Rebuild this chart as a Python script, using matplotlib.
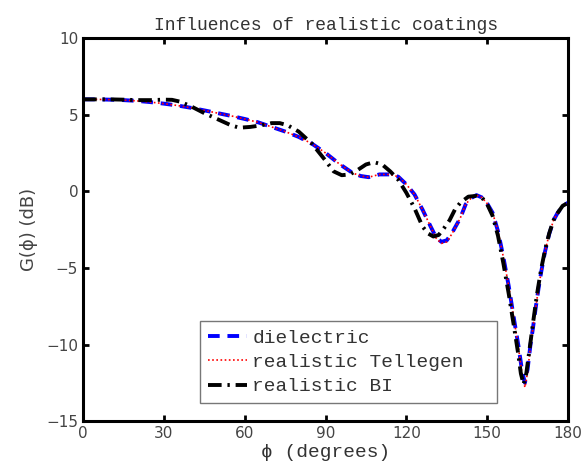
import matplotlib
matplotlib.use("Agg")
import matplotlib.pyplot as plt
import numpy as np

# dielectric
phi_d = [0, 5, 10, 15, 20, 25, 30, 35, 40, 45, 50, 55, 60, 65, 70, 75, 80, 85, 90, 95,
         100, 103, 106, 110, 114, 117, 120, 123, 126, 129, 131, 133, 135, 137, 140, 142,
         144, 146, 148, 150, 152, 154, 156, 158, 160, 161.6, 163, 164, 165, 166, 167, 168,
         169, 170, 171.5, 173, 174.6, 176, 178, 180]
g_d = [6.0, 6.0, 5.98, 5.95, 5.9, 5.82, 5.72, 5.6, 5.45, 5.28, 5.1, 4.92, 4.72, 4.5, 4.2,
       3.9, 3.55, 3.1, 2.5, 1.8, 1.2, 1.0, 0.92, 1.1, 1.1, 0.95, 0.45, -0.2, -1.2, -2.3,
       -3.0, -3.3, -3.2, -2.7, -1.75, -0.85, -0.45, -0.25, -0.4, -0.8, -1.4, -2.6, -4.3,
       -6.2, -8.4, -10.1, -11.8, -12.5, -11.6, -10.1, -8.9, -7.6, -6.4, -5.3, -3.9, -2.8,
       -1.9, -1.45, -0.95, -0.75]

# realistic Tellegen
phi_t = phi_d
g_t = [6.0, 6.0, 5.98, 5.95, 5.9, 5.82, 5.72, 5.6, 5.45, 5.28, 5.1, 4.92, 4.72, 4.5, 4.2,
       3.9, 3.55, 3.1, 2.5, 1.8, 1.2, 1.0, 0.92, 1.1, 1.1, 0.95, 0.45, -0.2, -1.2, -2.3,
       -3.05, -3.4, -3.3, -2.75, -1.75, -0.85, -0.45, -0.25, -0.4, -0.8, -1.4, -2.6, -4.3,
       -6.2, -8.4, -10.2, -12.0, -12.8, -11.8, -10.2, -8.9, -7.6, -6.4, -5.3, -3.9, -2.8,
       -1.9, -1.45, -0.95, -0.75]

# realistic BI
phi_b = [0, 5, 10, 15, 20, 25, 30, 33, 36, 40, 45, 50, 55, 58, 62, 66, 70, 73, 76, 80,
         85, 90, 93, 96, 99, 102, 105, 108, 111, 114, 117, 120, 123, 126, 128, 130, 132,
         134, 136, 138, 140, 143, 146, 148, 150, 152, 154, 156, 158, 160, 161.5, 162.5,
         163.5, 164.5, 165.5, 167, 168.5, 170, 171.5, 173, 174.6, 176, 178, 180]
g_b = [6.0, 6.0, 6.0, 5.98, 5.95, 5.95, 5.98, 5.97, 5.85, 5.55, 5.1, 4.7, 4.3, 4.15, 4.2,
       4.3, 4.45, 4.45, 4.3, 3.9, 3.1, 2.0, 1.3, 1.05, 1.1, 1.4, 1.75, 1.9, 1.75, 1.3, 0.75,
       -0.1, -1.1, -2.3, -2.75, -2.95, -2.85, -2.4, -1.9, -1.2, -0.75, -0.35, -0.3, -0.4,
       -0.85, -1.6, -2.9, -4.7, -6.7, -8.9, -10.6, -11.9, -12.6, -11.9, -10.6, -8.6, -6.7,
       -5.1, -3.8, -2.75, -1.9, -1.45, -0.95, -0.75]

labels = ["dielectric", "realistic Tellegen", "realistic BI"]
xticks = [0, 30, 60, 90, 120, 150, 180]
yticks = [-15, -10, -5, 0, 5, 10]

mono = ["Liberation Mono", "DejaVu Sans"]

fig = plt.figure(figsize=(5.85, 4.7), dpi=100)
ax = fig.add_axes([0.142, 0.104, 0.829, 0.815])

ax.plot(phi_d, g_d, color="blue", linestyle=(0, (3, 2)), linewidth=2.8, label=labels[0])
ax.plot(phi_t, g_t, color="red", linestyle=(0, (1, 1.5)), linewidth=1.2, label=labels[1])
ax.plot(phi_b, g_b, color="black", linestyle=(0, (3.5, 1.5, 0.6, 1.5)), linewidth=2.8,
        label=labels[2])

ax.set_xlim(0, 180)
ax.set_ylim(-15, 10)
ax.set_xticks(xticks)
ax.set_yticks(yticks)
ax.tick_params(direction="in", top=True, right=True, length=4, width=2,
               labelsize=11, labelcolor="#444444")
for s in ax.spines.values():
    s.set_linewidth(2.2)

ax.set_title("Influences of realistic coatings", family=mono, fontsize=13, color="#333333", pad=6)
ax.set_xlabel("\u03d5 (degrees)", family=mono, fontsize=14, color="#333333", labelpad=2)
ax.set_ylabel("G(\u03d5) (dB)", fontsize=13, color="#444444", labelpad=6)

leg = ax.legend(loc="lower left", bbox_to_anchor=(0.241, 0.047, 0.613, 0.235), mode="expand",
                prop={"family": mono, "size": 14}, fancybox=False, framealpha=1,
                edgecolor="#777777", handlelength=2.0, handletextpad=0.3,
                borderaxespad=0, labelspacing=0.35, borderpad=0.4)
leg.get_frame().set_linewidth(1.0)
for t in leg.get_texts():
    t.set_color("#333333")

fig.savefig("out.png", dpi=100)
